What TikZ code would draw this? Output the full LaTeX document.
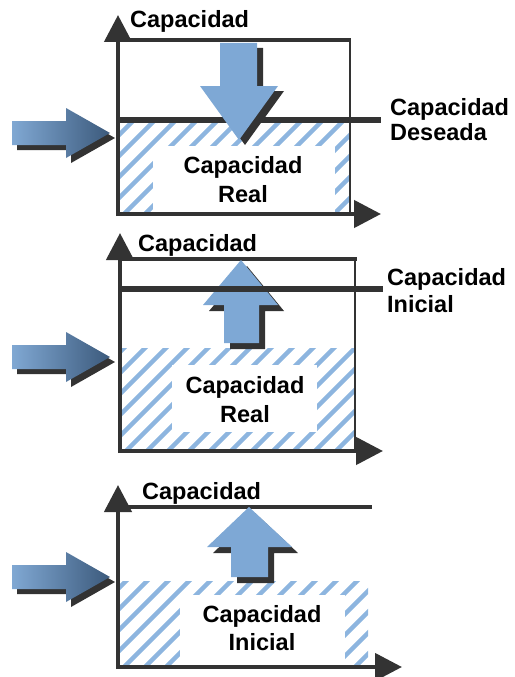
\documentclass[tikz,border=0pt]{standalone}
\usepackage{fontspec}
\setmainfont{Liberation Sans}
\usetikzlibrary{arrows.meta}

\definecolor{axisgray}{HTML}{333333}
\definecolor{flowblue}{HTML}{7EA8D5}
\definecolor{hatchblue}{HTML}{8DB5DF}
\definecolor{paleblue}{HTML}{80A8D3}
\definecolor{deepblue}{HTML}{3C5A7C}

\tikzset{
  axis/.style={draw=axisgray, line width=4.5pt, -{Triangle[length=27pt,width=27pt]}},
  frame/.style={draw=axisgray, line width=4pt},
  sideframe/.style={draw=axisgray, line width=2.5pt},
  level/.style={draw=axisgray, line width=6.5pt},
  lbl/.style={font=\fontsize{23.5}{28}\selectfont\bfseries, inner sep=0pt, text=black},
  shadow/.style={fill=axisgray},
  flow/.style={fill=flowblue},
  stripe/.style={draw=hatchblue, line width=4.5pt},
  blank/.style={fill=white},
}

% diagonal blue stripes inside the rectangle (#1,#2)--(#3,#4)
\newcommand\hatcharea[4]{%
  \begin{scope}
    \clip (#1,#2) rectangle (#3,#4);
    \foreach \s in {-168,-147,...,273}
      \draw[stripe] ({#1+\s},{#4+5}) -- ++(160,-160);
  \end{scope}}

% shaded side arrow centred on height #1
\newcommand\sidearrow[1]{%
  \begin{scope}[shift={(0,#1)}]
    \fill[shadow, shift={(5,5)}] (12,-12) -- (66,-12) -- (66,-25) -- (110,0)
      -- (66,25) -- (66,12) -- (12,12) -- cycle;
    \shade[left color=paleblue, right color=deepblue] (12,-12) -- (66,-12)
      -- (66,-25) -- (110,0) -- (66,25) -- (66,12) -- (12,12) -- cycle;
  \end{scope}}

\begin{document}
\begin{tikzpicture}[x=1pt, y=-1pt]
\useasboundingbox (0,0) rectangle (514,677);

% ---------------- first chart ----------------
\hatcharea{120}{123}{350}{213}
\fill[blank] (153,146) rectangle (335,213);
\coordinate (t1a) at (116,40);  \coordinate (t1b) at (351,40);
\coordinate (r1a) at (350,40);  \coordinate (r1b) at (350,214);
\coordinate (d1a) at (118,120); \coordinate (d1b) at (381,120);
\draw[sideframe] (r1a) -- (r1b);
\draw[frame] (t1a) -- (t1b);
\draw[level] (d1a) -- (d1b);
\fill[shadow, shift={(6,5)}] (220,43) -- (257,43) -- (257,86) -- (278,86)
  -- (239,140) -- (200,86) -- (220,86) -- cycle;
\fill[flow] (220,43) -- (257,43) -- (257,86) -- (278,86)
  -- (239,140) -- (200,86) -- (220,86) -- cycle;
\coordinate (o1) at (118,216);  \coordinate (y1) at (118,15);
\coordinate (o1x) at (116,214); \coordinate (x1) at (381,214);
\draw[axis] (o1) -- (y1);
\draw[axis] (o1x) -- (x1);
\sidearrow{133}
\node[lbl, anchor=base west] (cap1) at (130,28) {Capacidad};
\node[lbl, anchor=base west] (des1a) at (390,115) {Capacidad};
\node[lbl, anchor=base west] (des1b) at (390,140) {Deseada};
\node[lbl, anchor=base] (real1a) at (243,173) {Capacidad};
\node[lbl, anchor=base] (real1b) at (243,202) {Real};

% ---------------- second chart ----------------
\hatcharea{122}{348}{355}{450}
\fill[blank] (172,365) rectangle (317,432);
\coordinate (t2a) at (118,259); \coordinate (t2b) at (357,259);
\coordinate (r2a) at (355,259); \coordinate (r2b) at (355,451);
\coordinate (i2a) at (120,289); \coordinate (i2b) at (383,289);
\draw[sideframe] (r2a) -- (r2b);
\draw[frame] (t2a) -- (t2b);
\fill[shadow, shift={(6,6)}] (224,343) -- (259,343) -- (259,305) -- (278,305)
  -- (241,260) -- (203,305) -- (224,305) -- cycle;
\fill[flow] (224,343) -- (259,343) -- (259,305) -- (278,305)
  -- (241,260) -- (203,305) -- (224,305) -- cycle;
\draw[level] (i2a) -- (i2b);
\coordinate (o2) at (120,453);  \coordinate (y2) at (120,233);
\coordinate (o2x) at (118,451); \coordinate (x2) at (383,451);
\draw[axis] (o2) -- (y2);
\draw[axis] (o2x) -- (x2);
\sidearrow{357}
\node[lbl, anchor=base west] (cap2) at (138,251) {Capacidad};
\node[lbl, anchor=base west] (ini2a) at (387,285) {Capacidad};
\node[lbl, anchor=base west] (ini2b) at (387,312) {Inicial};
\node[lbl, anchor=base] (real2a) at (245,393) {Capacidad};
\node[lbl, anchor=base] (real2b) at (245,422) {Real};

% ---------------- third chart ----------------
\hatcharea{120}{581}{368}{666}
\fill[blank] (180,595) rectangle (345,666);
\coordinate (t3a) at (116,507); \coordinate (t3b) at (372,507);
\draw[frame] (t3a) -- (t3b);
\fill[shadow, shift={(6,6)}] (231,577) -- (268,577) -- (268,547) -- (292,547)
  -- (249,507) -- (207,547) -- (231,547) -- cycle;
\fill[flow] (231,577) -- (268,577) -- (268,547) -- (292,547)
  -- (249,507) -- (207,547) -- (231,547) -- cycle;
\coordinate (o3) at (118,669);  \coordinate (y3) at (118,485);
\coordinate (o3x) at (116,667); \coordinate (x3) at (402,667);
\draw[axis] (o3) -- (y3);
\draw[axis] (o3x) -- (x3);
\sidearrow{577}
\node[lbl, anchor=base west] (cap3) at (142,499) {Capacidad};
\node[lbl, anchor=base] (ini3a) at (262,622) {Capacidad};
\node[lbl, anchor=base] (ini3b) at (262,650) {Inicial};
\end{tikzpicture}
\end{document}
